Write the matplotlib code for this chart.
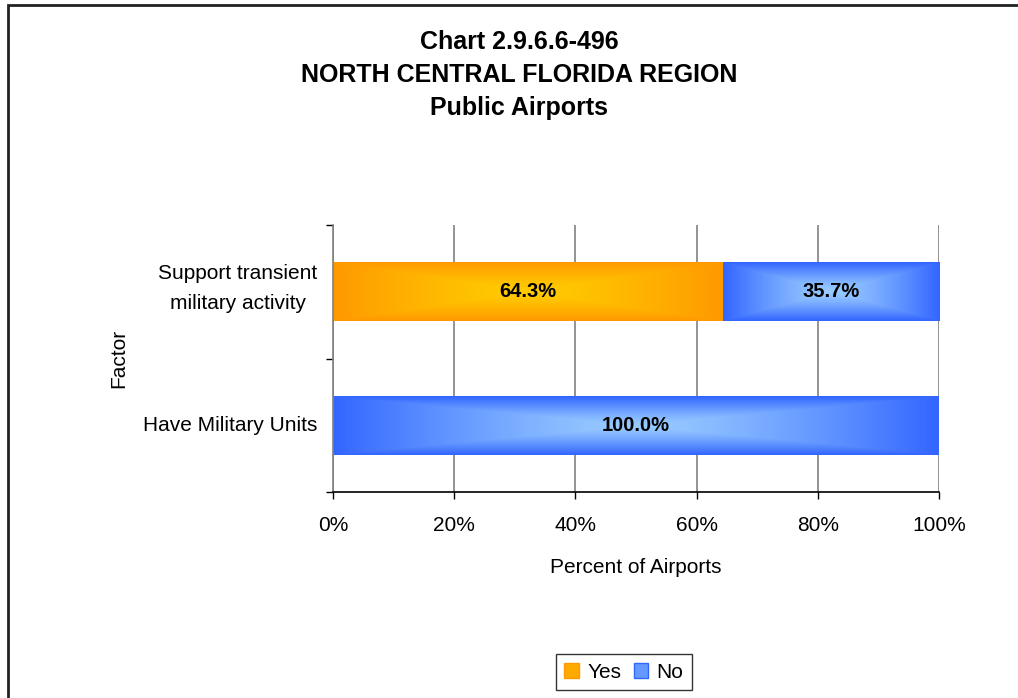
import numpy as np
import matplotlib
matplotlib.use('Agg')
import matplotlib.pyplot as plt
import matplotlib.transforms as mtrans
from matplotlib.patches import Rectangle, Patch
from matplotlib.colors import LinearSegmentedColormap

plt.rcParams['font.family'] = ['Liberation Sans', 'DejaVu Sans']

categories = ['Have Military Units', 'Support transient\nmilitary activity']
yes_vals = [0.0, 64.3]
no_vals = [100.0, 35.7]
xticks = [0, 20, 40, 60, 80, 100]

orange_cmap = LinearSegmentedColormap.from_list('org', ['#FFCC00', '#FF9900'])
blue_cmap = LinearSegmentedColormap.from_list('blu', ['#99CCFF', '#3366FF'])


def gradient_fill(ax, bars, cmap):
    # rectangular "from centre" gradient clipped to each bar
    u = np.linspace(-1, 1, 200)
    v = np.linspace(-1, 1, 60)
    U, V = np.meshgrid(u, v)
    Z = np.maximum(np.abs(U), np.abs(V)) ** 1.3
    for b in bars:
        if b.get_width() <= 0:
            continue
        x0, y0 = b.get_x(), b.get_y()
        w, h = b.get_width(), b.get_height()
        im = ax.imshow(Z, cmap=cmap, extent=[x0, x0 + w, y0, y0 + h],
                       aspect='auto', origin='lower', zorder=2, vmin=0, vmax=1)
        im.set_clip_path(b)
        b.set_facecolor('none')


fig = plt.figure(figsize=(10.18, 6.98), dpi=100)
ax = fig.add_axes([333 / 1018, 1 - 492 / 698, (939 - 333) / 1018, (492 - 225) / 698])

y = np.arange(len(categories))
h = 0.44
b1 = ax.barh(y, yes_vals, height=h, color='#FFAA00', zorder=2, linewidth=0)
b2 = ax.barh(y, no_vals, left=yes_vals, height=h, color='#5588FF', zorder=2, linewidth=0)
gradient_fill(ax, b1, orange_cmap)
gradient_fill(ax, b2, blue_cmap)

for i in range(len(categories)):
    if yes_vals[i] > 0:
        ax.text(yes_vals[i] / 2, y[i], f'{yes_vals[i]:.1f}%', ha='center', va='center',
                fontsize=14.5, fontweight='bold', zorder=4)
    if no_vals[i] > 0:
        ax.text(yes_vals[i] + no_vals[i] / 2, y[i], f'{no_vals[i]:.1f}%', ha='center', va='center',
                fontsize=14.5, fontweight='bold', zorder=4)

ax.set_xlim(0, 100)
ax.set_ylim(-0.5, 1.5)
ax.set_xticks(xticks)
ax.set_xticklabels([f'{t}%' for t in xticks], fontsize=15)
ax.xaxis.grid(True, color='#808080', linewidth=1.2, zorder=1)
ax.set_axisbelow(True)
ax.tick_params(axis='x', length=5, width=1, color='black', pad=12)

ax.set_yticks([-0.5, 0.5, 1.5])
ax.set_yticklabels(['', '', ''])
ax.set_yticks(y, minor=True)
ax.set_yticklabels(categories, minor=True, fontsize=15)
ax.tick_params(axis='y', which='major', length=5, width=1, color='black')
ax.tick_params(axis='y', which='minor', length=0, pad=11)
shift = mtrans.ScaledTranslation(0, 3 / 100, fig.dpi_scale_trans)
for lab in ax.get_yticklabels(minor=True):
    lab.set_multialignment('center')
    lab.set_linespacing(1.75)
    lab.set_verticalalignment('center')
    if '\n' in lab.get_text():
        lab.set_transform(lab.get_transform() + shift)

for s in ['top', 'right']:
    ax.spines[s].set_visible(False)
ax.spines['left'].set_color('#808080')
ax.spines['left'].set_linewidth(1.2)
ax.spines['bottom'].set_color('black')
ax.spines['bottom'].set_linewidth(1.2)

ax.set_xlabel('Percent of Airports', fontsize=15, labelpad=17)
ax.set_ylabel('Factor', fontsize=15)
ax.yaxis.set_label_coords(-205 / 606, 0.5)

title_lines = ['Chart 2.9.6.6-496', 'NORTH CENTRAL FLORIDA REGION', 'Public Airports']
title_y = [42, 75, 108]
for line, ty in zip(title_lines, title_y):
    fig.text(519 / 1018, 1 - ty / 698, line, ha='center', va='center',
             fontsize=18, fontweight='bold')

handles = [Patch(facecolor='#FFAA00', edgecolor='#FF9900'),
           Patch(facecolor='#6699FF', edgecolor='#3366FF')]
leg = fig.legend(handles, ['Yes', 'No'], loc='center', bbox_to_anchor=(624 / 1018, 1 - 672 / 698),
                 ncol=2, fontsize=15, frameon=True, fancybox=False, edgecolor='black',
                 handlelength=0.7, handleheight=0.7, handletextpad=0.4, columnspacing=0.6,
                 borderpad=0.4, borderaxespad=0)
leg.get_frame().set_linewidth(1.0)

fig.patches.append(Rectangle((8 / 1018, -0.1), 1.2, 1 - 5 / 698 + 0.1, transform=fig.transFigure,
                             fill=False, edgecolor='#222222', linewidth=2, zorder=10))

fig.savefig('out.png', dpi=100)
